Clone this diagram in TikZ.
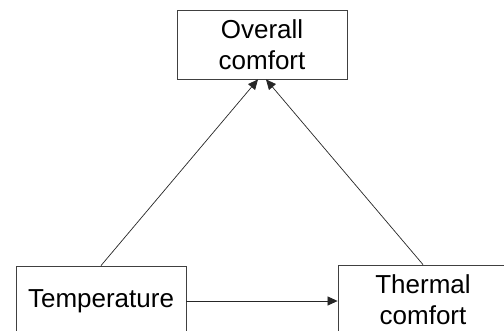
\documentclass[tikz,border=0pt]{standalone}
\usepackage{fontspec}
\setmainfont{Liberation Sans}
\usetikzlibrary{arrows.meta,calc}

\tikzset{
  box/.style={draw=black!75, line width=0.8pt, minimum width=170pt, minimum height=69pt,
    align=center, inner sep=0pt, font=\fontsize{26}{31}\selectfont},
  link/.style={draw=black!85, line width=0.7pt, -{Triangle[length=10pt,width=9pt]}}
}

\begin{document}
\begin{tikzpicture}[x=1pt,y=1pt]
  \useasboundingbox (0,0) rectangle (504,330);
  \clip (0,0) rectangle (504,330);

  \node[box] (OC) at (262,285.5) {Overall\\comfort};
  \node[box, minimum height=70pt] (T) at (101,29) {Temperature};
  \node[box, minimum height=70pt] (TC) at (423,30) {Thermal\\comfort};

  \draw[link] (T.north)  to ($(OC.south)+(-4,0)$);
  \draw[link] (TC.north) to ($(OC.south)+(4,0)$);
  \draw[link] (T.east)   to (TC.west |- T.east);
\end{tikzpicture}
\end{document}
